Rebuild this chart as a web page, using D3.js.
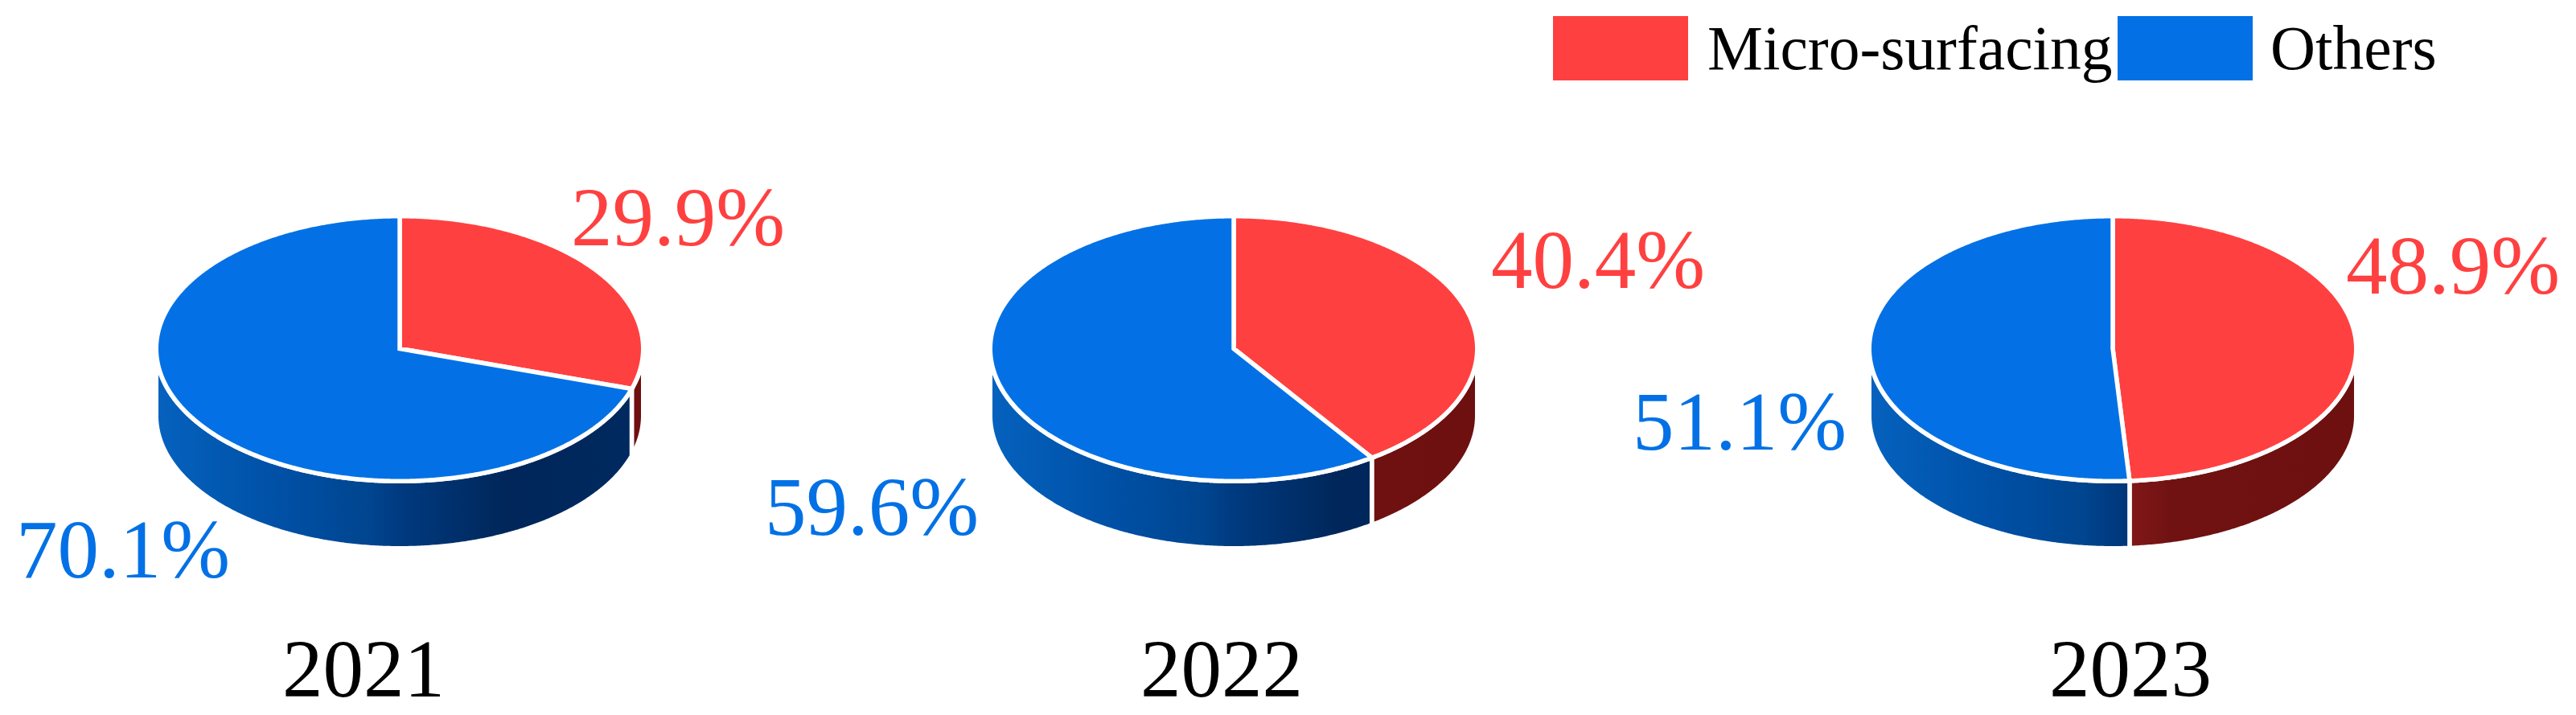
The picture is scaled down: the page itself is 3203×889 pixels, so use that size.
<!DOCTYPE html>
<html><head><meta charset="utf-8">
<script src="https://cdn.jsdelivr.net/npm/d3@7"></script>
<style>html,body{margin:0;padding:0;background:#fff}svg{display:block}text{font-family:"Liberation Serif",serif}</style>
</head><body><svg id="c" width="3203" height="889"></svg>
<script>
const years = ["2021","2022","2023"];
const seriesNames = ["Micro-surfacing","Others"];
const microSurfacing = [29.9,40.4,48.9];
const others = [70.1,59.6,51.1];

// layout only
const W=3203,H=889;
const colors=["#FF4040","#0371E5"];
const pieCx=[497,1534,2627], pieCy=433.5;
const strokeW=5.5, rx=300+strokeW/2, ry=162+strokeW/2, depth=83.5;
const labelPos=[[[710,305],[20,718]],[[1854,358],[951,665]],[[2917,365],[2030,559]]];
const yearX=[452,1519,2649], yearY=866;
const legendRects=[[1931,20,168,80],[2633,20,168,80]], legendText=[[2123,86],[2823,86]];

const svg=d3.select("#c").attr("viewBox",[0,0,W,H]);
const defs=svg.append("defs");
const grads=[
 [[0,"#8e1c1c"],[.5,"#8a1a1a"],[.62,"#701212"],[1,"#6E1010"]],
 [[0,"#0562BE"],[.25,"#0050A6"],[.44,"#00458F"],[.5,"#003A80"],[.68,"#002A60"],[.72,"#00265A"],[1,"#002A60"]]
];
grads.forEach((g,i)=>{
  const lg=defs.append("linearGradient").attr("id","wall"+i).attr("gradientUnits","userSpaceOnUse")
    .attr("x1",-rx).attr("x2",rx).attr("y1",0).attr("y2",0);
  lg.selectAll("stop").data(g).join("stop").attr("offset",d=>d[0]).attr("stop-color",d=>d[1]);
});

const pie=d3.pie().sort(null).startAngle(0).endAngle(2*Math.PI);
const px=a=>rx*Math.sin(a), py=a=>-ry*Math.cos(a);
const line=d3.line();
const samples=(a0,a1)=>{const n=Math.max(2,Math.ceil((a1-a0)*120));return d3.range(n+1).map(i=>a0+(a1-a0)*i/n)};
const topPath=d=>line([[0,0],...samples(d.startAngle,d.endAngle).map(a=>[px(a),py(a)])])+"Z";
const wallPath=d=>{
  const a0=Math.max(d.startAngle,Math.PI/2), a1=Math.min(d.endAngle,3*Math.PI/2);
  if(a1<=a0) return null;
  const up=samples(a0,a1).map(a=>[px(a),py(a)]);
  const down=samples(a0,a1).reverse().map(a=>[px(a),py(a)+depth]);
  return line([...up,...down])+"Z";
};

years.forEach((y,k)=>{
  const arcs=pie([microSurfacing[k],others[k]]);
  const g=svg.append("g").attr("transform",`translate(${pieCx[k]},${pieCy})`);
  g.selectAll("path.wall").data(arcs).join("path").attr("class","wall")
    .attr("d",wallPath).attr("fill",d=>`url(#wall${d.index})`)
    .attr("stroke","#fff").attr("stroke-width",strokeW).attr("stroke-linejoin","round");
  g.selectAll("path.top").data(arcs).join("path").attr("class","top")
    .attr("d",topPath).attr("fill",(d,i)=>colors[i])
    .attr("stroke","#fff").attr("stroke-width",strokeW).attr("stroke-linejoin","miter").attr("stroke-miterlimit",2);
  [microSurfacing[k],others[k]].forEach((v,i)=>{
    svg.append("text").attr("x",labelPos[k][i][0]).attr("y",labelPos[k][i][1])
      .attr("font-size",103).attr("fill",colors[i]).text(v.toFixed(1)+"%");
  });
  svg.append("text").attr("x",yearX[k]).attr("y",yearY).attr("text-anchor","middle")
    .attr("font-size",101).attr("fill","#000").text(y);
});

seriesNames.forEach((s,i)=>{
  const r=legendRects[i];
  svg.append("rect").attr("x",r[0]).attr("y",r[1]).attr("width",r[2]).attr("height",r[3]).attr("fill",colors[i]);
  svg.append("text").attr("x",legendText[i][0]).attr("y",legendText[i][1]).attr("font-size",77.5).attr("fill","#000").text(s);
});
</script></body></html>
